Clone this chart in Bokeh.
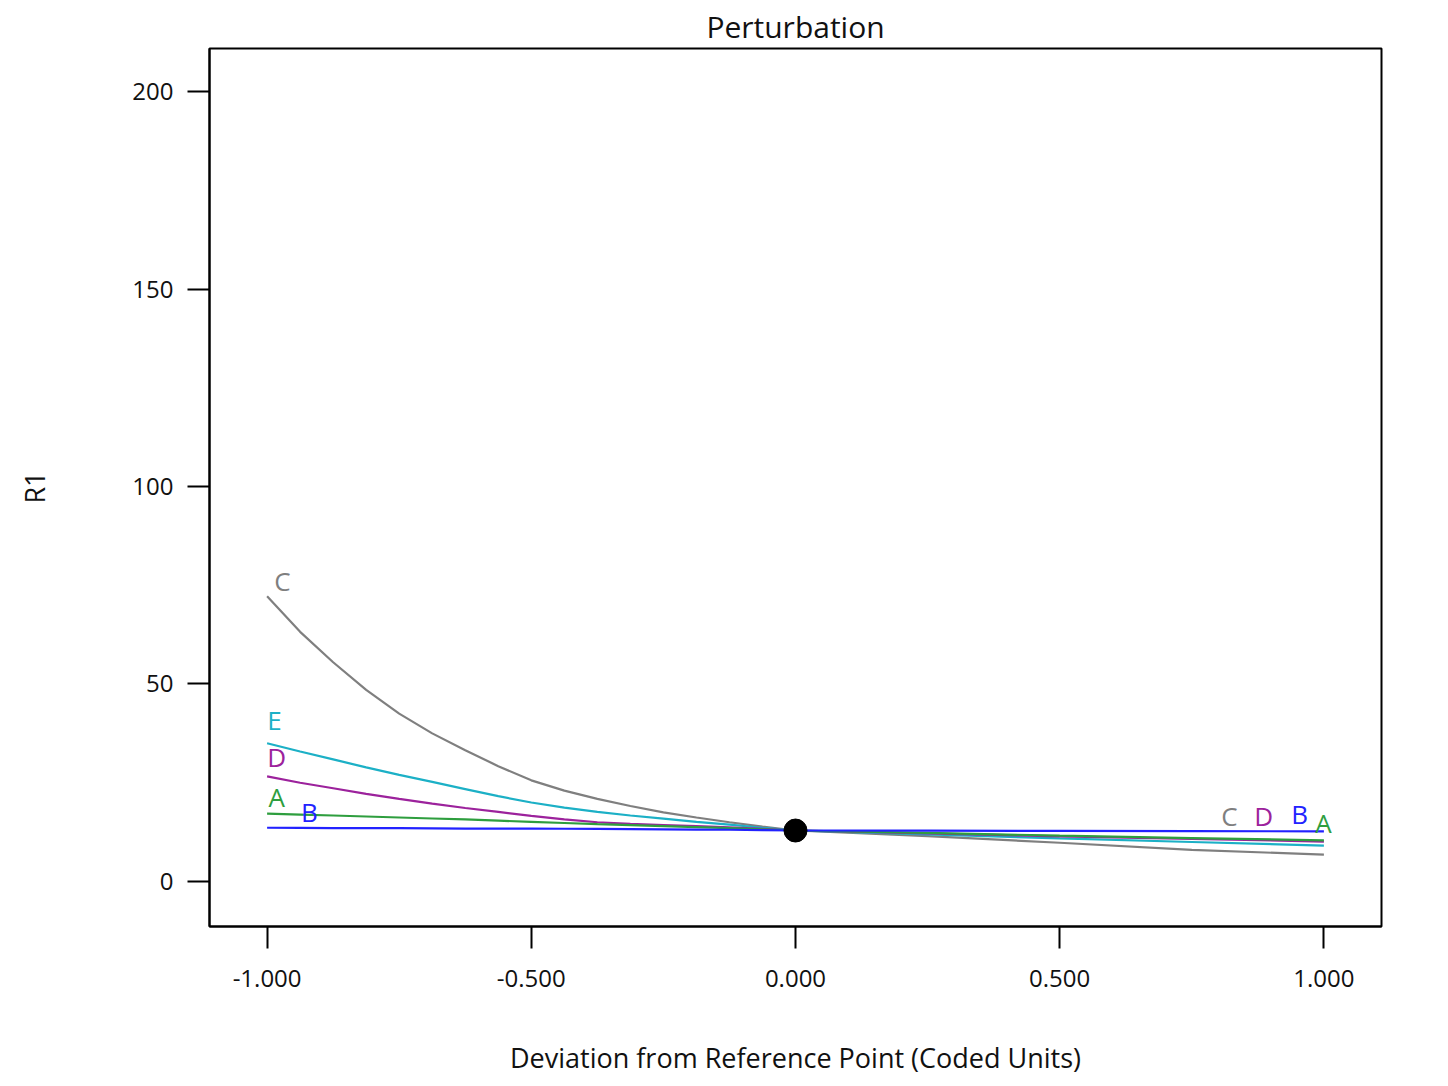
from bokeh.plotting import figure
from bokeh.models import FixedTicker, PrintfTickFormatter, Range1d, ColumnDataSource
from bokeh.core.properties import value
from bokeh.embed import file_html
from bokeh.resources import INLINE

FONT = "Open Sans"

# Deviation from reference point (coded units)
dev = [-1.0, -0.9375, -0.875, -0.8125, -0.75, -0.6875, -0.625, -0.5625, -0.5,
       -0.4375, -0.375, -0.3125, -0.25, -0.1875, -0.125, -0.0625, 0.0,
       0.25, 0.5, 0.75, 1.0]

# R1 response for each factor
r1_A = [17.2, 16.95, 16.7, 16.45, 16.2, 15.95, 15.7, 15.4, 15.1,
        14.8, 14.5, 14.25, 14.0, 13.75, 13.5, 13.2, 12.9,
        12.3, 11.6, 11.0, 10.4]
r1_B = [13.6, 13.55, 13.5, 13.5, 13.5, 13.45, 13.4, 13.4, 13.4,
        13.35, 13.3, 13.25, 13.2, 13.15, 13.1, 13.0, 12.9,
        12.85, 12.8, 12.75, 12.7]
r1_C = [72.2, 63.2, 55.5, 48.5, 42.5, 37.5, 33.2, 29.2, 25.6,
        23.0, 20.9, 19.1, 17.5, 16.2, 15.0, 13.9, 12.9,
        11.5, 9.8, 8.0, 6.8]
r1_D = [26.6, 25.0, 23.6, 22.2, 20.9, 19.7, 18.6, 17.6, 16.6,
        15.7, 15.0, 14.6, 14.3, 14.0, 13.7, 13.3, 12.9,
        12.2, 11.4, 10.8, 10.1]
r1_E = [35.0, 32.9, 30.9, 28.9, 27.0, 25.2, 23.4, 21.6, 20.0,
        18.7, 17.6, 16.7, 15.9, 15.1, 14.4, 13.6, 12.9,
        11.9, 10.9, 10.0, 9.1]

ref_x = [0.0]
ref_y = [12.9]

x_ticks = [-1.0, -0.5, 0.0, 0.5, 1.0]
y_ticks = [0, 50, 100, 150, 200]

# curve label annotations
lab_text = ["C", "E", "D", "A", "B", "C", "D", "B", "A"]
lab_x = [-0.971, -0.986, -0.982, -0.982, -0.920, 0.821, 0.886, 0.954, 0.999]
lab_y = [76.2, 41.0, 31.6, 21.5, 17.7, 16.7, 16.7, 17.2, 14.9]

colors = {"A": "#2e9e3e", "B": "#2222ff", "C": "#7f7f7f", "D": "#9c229c", "E": "#1cb0c6"}

p = figure(frame_width=1172, frame_height=878,
           min_border_left=209, min_border_right=51, min_border_top=48, min_border_bottom=152,
           x_range=Range1d(-1.109, 1.109), y_range=Range1d(-11.4, 210.9),
           output_backend="svg", toolbar_location=None, title="Perturbation")

p.title.align = "center"
p.title.text_font = FONT
p.title.text_font_size = "30px"
p.title.text_font_style = "normal"
p.title.text_color = "#111111"
p.title.standoff = 0
p.title.vertical_align = "top"

p.outline_line_color = "black"
p.outline_line_width = 2
p.xgrid.visible = False
p.ygrid.visible = False
p.background_fill_color = "white"
p.border_fill_color = "white"

for ax in (p.xaxis[0], p.yaxis[0]):
    ax.axis_line_color = "black"
    ax.axis_line_width = 2
    ax.major_tick_line_color = "black"
    ax.major_tick_line_width = 2
    ax.major_tick_out = 22
    ax.major_tick_in = 0
    ax.minor_tick_line_color = None
    ax.major_label_text_font = FONT
    ax.major_label_text_font_size = "24px"
    ax.major_label_text_color = "#111111"
    ax.axis_label_text_font = FONT
    ax.axis_label_text_font_size = "27px"
    ax.axis_label_text_font_style = "normal"
    ax.axis_label_text_color = "#111111"

p.xaxis.ticker = FixedTicker(ticks=x_ticks)
p.xaxis.formatter = PrintfTickFormatter(format="%.3f")
p.xaxis.major_label_standoff = 21
p.xaxis.axis_label = "Deviation from Reference Point (Coded Units)"
p.xaxis.axis_label_standoff = 49

p.yaxis.ticker = FixedTicker(ticks=y_ticks)
p.yaxis.major_label_standoff = 14
p.yaxis.axis_label = "R1"
p.yaxis.axis_label_standoff = 76

series = [("C", r1_C), ("E", r1_E), ("D", r1_D), ("A", r1_A), ("B", r1_B)]
for name, ys in series:
    p.line(dev, ys, line_color=colors[name], line_width=2.2)

src = ColumnDataSource(dict(x=lab_x, y=lab_y, t=lab_text,
                            c=[colors[t] for t in lab_text]))
p.text(x="x", y="y", text="t", text_color="c", source=src,
       text_font=value(FONT), text_font_size="26px",
       text_align="center", text_baseline="middle")

p.scatter(ref_x, ref_y, size=23, fill_color="black", line_color="black")

open("out.html", "w").write(file_html(p, INLINE))
